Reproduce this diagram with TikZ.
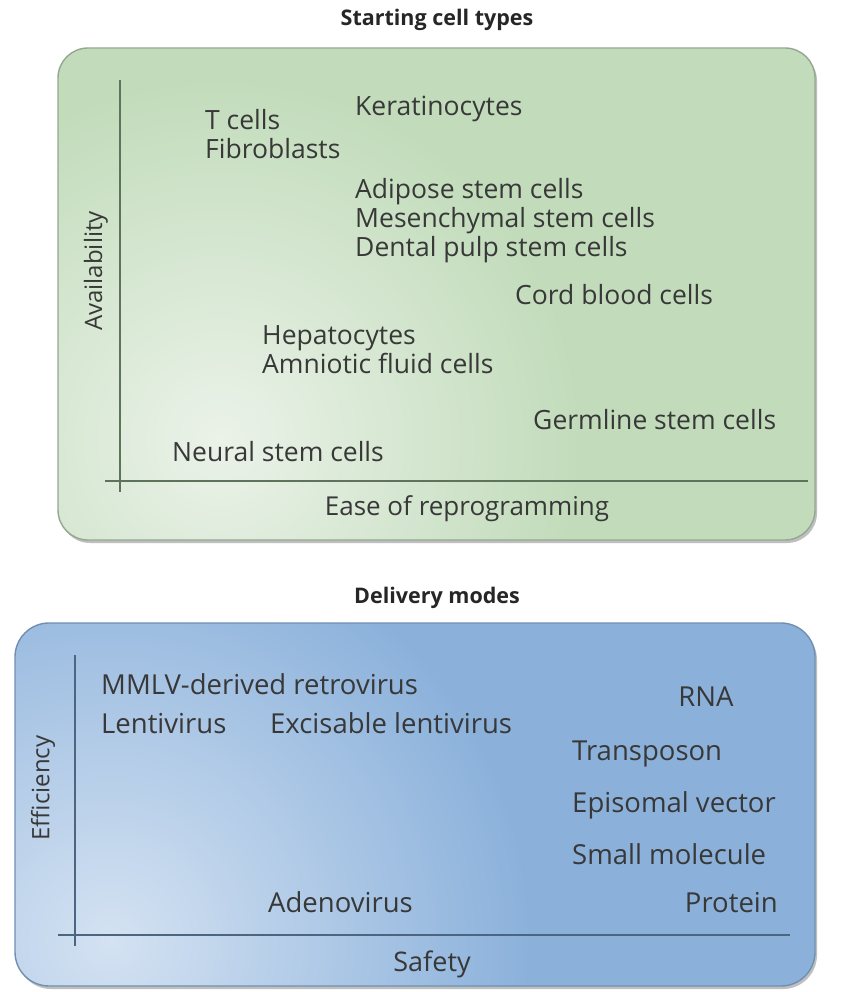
\documentclass[tikz,border=0pt]{standalone}
\usepackage{fontspec}
\setmainfont{Open Sans}
\begin{document}
\begin{tikzpicture}[x=1pt,y=-1pt,
  item/.style={anchor=west,inner sep=0pt,text height=19pt,text depth=6pt,font=\fontsize{26.5}{30}\selectfont,text=black!78},
  itemb/.style={item,font=\fontsize{27.5}{31}\selectfont},
  itemr/.style={itemb,anchor=east},
  title/.style={font=\bfseries\fontsize{21.5}{25}\selectfont,text=black!85},
  axlabel/.style={font=\fontsize{24}{27}\selectfont,text=black!78},
]
\definecolor{gdark}{HTML}{C2DCBB}
\definecolor{glight}{HTML}{EBF2E9}
\definecolor{gline}{HTML}{5E725C}
\definecolor{gborder}{HTML}{93A890}
\definecolor{bdark}{HTML}{8BB1DB}
\definecolor{blight}{HTML}{D4E2F2}
\definecolor{bline}{HTML}{4C6682}
\definecolor{bborder}{HTML}{7090B2}
\useasboundingbox (0,0) rectangle (841,992);
\fill[white] (0,0) rectangle (841,992);

% ---------- top panel ----------
\node[title] (t1) at (437,20) {Starting cell types};
\fill[black!25, rounded corners=30pt] (60,51) rectangle (817,543);
\begin{scope}
\clip[rounded corners=30pt] (58,48) rectangle (815,540);
\fill[gdark] (58,48) rectangle (815,540);
\shade[inner color=glight, outer color=gdark] (220,440) circle (360);
\end{scope}
\draw[gborder, line width=1.4pt, rounded corners=30pt] (58,48) rectangle (815,540);
\coordinate (ya1) at (120,80);
\coordinate (yb1) at (120,492);
\coordinate (xa1) at (105,481);
\coordinate (xb1) at (808,481);
\draw[gline, line width=1.2pt] (ya1) -- (yb1);
\draw[gline, line width=1.2pt] (xa1) -- (xb1);
\node[axlabel, rotate=90] (avail) at (96,271) {Availability};
\node[axlabel, font=\fontsize{26}{29}\selectfont] (ease) at (467,509) {Ease of reprogramming};

\node[item] (tc) at (205,123) {T cells};
\node[item] (fib) at (205,152) {Fibroblasts};
\node[item] (ker) at (355,109) {Keratinocytes};
\node[item] (adi) at (355,192) {Adipose stem cells};
\node[item] (mes) at (355,221) {Mesenchymal stem cells};
\node[item] (den) at (355,250) {Dental pulp stem cells};
\node[item] (cord) at (515,298) {Cord blood cells};
\node[item] (hep) at (262,338) {Hepatocytes};
\node[item] (amn) at (262,367) {Amniotic fluid cells};
\node[item] (germ) at (533,423) {Germline stem cells};
\node[item] (neu) at (172,455) {Neural stem cells};

% ---------- bottom panel ----------
\node[title] (t2) at (437,598) {Delivery modes};
\fill[black!25, rounded corners=34pt] (17,626) rectangle (817,989);
\begin{scope}
\clip[rounded corners=34pt] (15,623) rectangle (815,986);
\fill[bdark] (15,623) rectangle (815,986);
\shade[inner color=blight, outer color=bdark] (110,940) circle (420);
\end{scope}
\draw[bborder, line width=1.4pt, rounded corners=34pt] (15,623) rectangle (815,986);
\coordinate (ya2) at (75,655);
\coordinate (yb2) at (75,946);
\coordinate (xa2) at (58,935);
\coordinate (xb2) at (790,935);
\draw[bline, line width=1.2pt] (ya2) -- (yb2);
\draw[bline, line width=1.2pt] (xa2) -- (xb2);
\node[axlabel, rotate=90] (eff) at (43,788) {Efficiency};
\node[axlabel, font=\fontsize{27}{30}\selectfont] (saf) at (432,964) {Safety};

\node[itemb] (mmlv) at (101,688) {MMLV-derived retrovirus};
\node[itemb] (lenti) at (101,727) {Lentivirus};
\node[itemb] (exc) at (270,727) {Excisable lentivirus};
\node[itemb,anchor=center] (rna) at (706,700) {RNA};
\node[itemb] (trans) at (572,754) {Transposon};
\node[itemb] (epi) at (572,806) {Episomal vector};
\node[itemb] (small) at (572,858) {Small molecule};
\node[itemb] (aden) at (268,906) {Adenovirus};
\node[itemr] (prot) at (778,906) {Protein};
\end{tikzpicture}
\end{document}
